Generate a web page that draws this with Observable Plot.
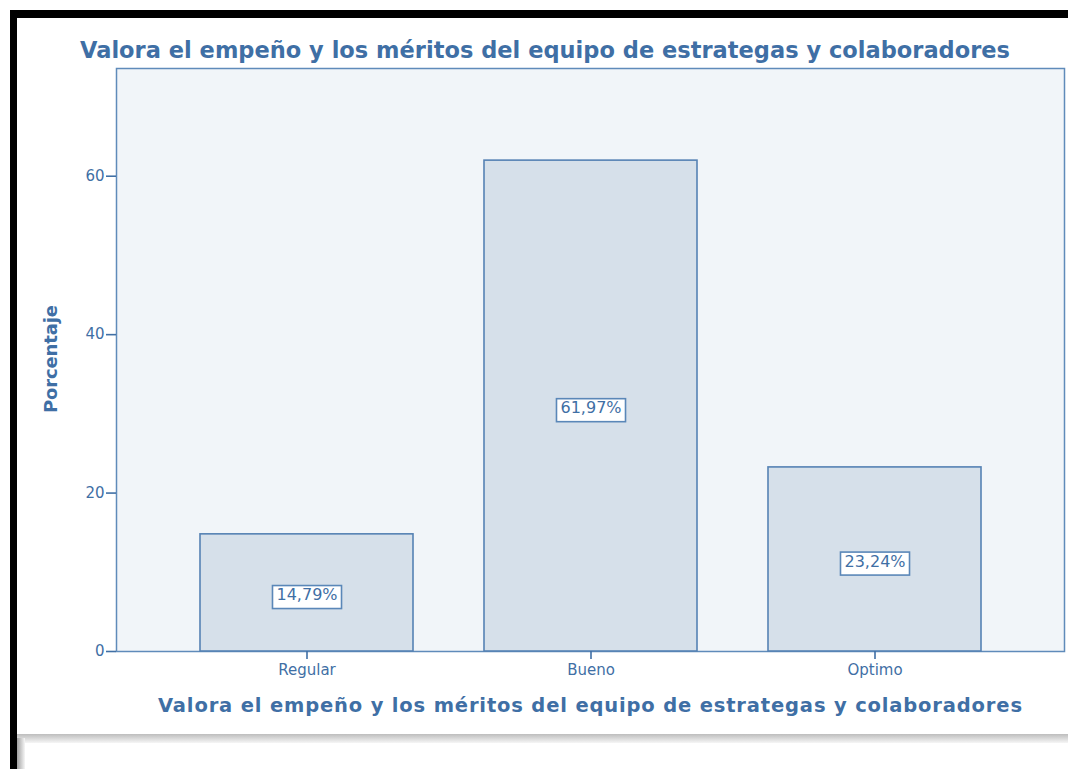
<!DOCTYPE html>
<html><head><meta charset="utf-8">
<script src="https://cdn.jsdelivr.net/npm/d3@7"></script>
<script src="https://cdn.jsdelivr.net/npm/@observablehq/plot@0.6"></script>
<style>
body{margin:0;background:#fff;}
#wrap{position:relative;width:1068px;height:769px;overflow:hidden;background:#fff;}
.bk{position:absolute;background:#000;}
#chart{position:absolute;left:0;top:0;}
</style></head><body>
<div id="wrap">
 <div class="bk" style="left:10px;top:10px;width:1058px;height:8px"></div>
 <div class="bk" style="left:10px;top:10px;width:7px;height:759px"></div>
 <div style="position:absolute;left:17px;top:734px;width:1051px;height:9px;background:linear-gradient(#bdbdbd,#f6f6f6)"></div>
 <div style="position:absolute;left:17px;top:738px;width:8px;height:31px;background:linear-gradient(90deg,#a0a0a0,#f6f6f6)"></div>
 <div id="chart"></div>
</div>
<script>
const categories = ["Regular", "Bueno", "Optimo"];
const percentages = [14.79, 61.97, 23.24];
const yTicks = [0, 20, 40, 60];
const titleText = "Valora el empeño y los méritos del equipo de estrategas y colaboradores";
const yLabel = "Porcentaje";

const data = categories.map((c, i) => ({cat: c, pct: percentages[i]}));
const fmt = v => v.toFixed(2).replace(".", ",") + "%";
const blue = "#3F6FA5";

const plot = Plot.plot({
  width: 1068, height: 769,
  marginLeft: 116, marginRight: 4, marginTop: 68, marginBottom: 118,
  style: {background: "transparent", fontFamily: "DejaVu Sans", color: blue},
  x: {domain: categories, paddingInner: 0.25, paddingOuter: 0.29, label: null},
  y: {domain: [0, 73.6], label: null},
  marks: [
    Plot.frame({fill: "#F1F5F9", stroke: "#5F8BBA", strokeWidth: 1.5}),
    Plot.barY(data, {x: "cat", y: "pct", fill: "#D6E0EA", stroke: "#5582B4", strokeWidth: 1.6}),
    Plot.axisX({tickSize: 8, tickPadding: 5, fontSize: 15, strokeWidth: 1.6, label: null}),
    Plot.axisY({ticks: yTicks, tickSize: 10, tickPadding: 2, fontSize: 15, strokeWidth: 1.6, label: null}),
    Plot.text(data, {x: "cat", y: d => d.pct / 2, text: d => fmt(d.pct), fontSize: 16, fill: blue, dy: 2, className: "pl"})
  ]
});
document.getElementById("chart").appendChild(plot);

const svg = d3.select(plot);
// boxes behind value labels
svg.selectAll("g.pl text").each(function() {
  const b = this.getBBox();
  const r = d3.select(this.parentNode).insert("rect", () => this)
    .attr("x", b.x - 4).attr("y", b.y + 0.5)
    .attr("width", b.width + 8).attr("height", b.height + 4)
    .attr("fill", "#fff").attr("stroke", "#5A87B8").attr("stroke-width", 1.6);
  const t = this.getAttribute("transform");
  if (t) r.attr("transform", t);
});

svg.append("text").text(titleText)
  .attr("x", 545).attr("y", 58).attr("text-anchor", "middle")
  .attr("font-family", "DejaVu Sans").attr("font-weight", "bold").attr("font-size", 22.5)
  .attr("fill", blue).attr("textLength", 930).attr("lengthAdjust", "spacing");

svg.append("text").text(titleText)
  .attr("x", 590).attr("y", 712).attr("text-anchor", "middle")
  .attr("font-family", "DejaVu Sans").attr("font-weight", "bold").attr("font-size", 19.5)
  .attr("fill", blue).attr("textLength", 864).attr("lengthAdjust", "spacing");

svg.append("text").text(yLabel)
  .attr("transform", "translate(57,359) rotate(-90)").attr("text-anchor", "middle")
  .attr("font-family", "DejaVu Sans").attr("font-weight", "bold").attr("font-size", 18)
  .attr("fill", blue).attr("textLength", 108).attr("lengthAdjust", "spacing");
</script>
</body></html>
